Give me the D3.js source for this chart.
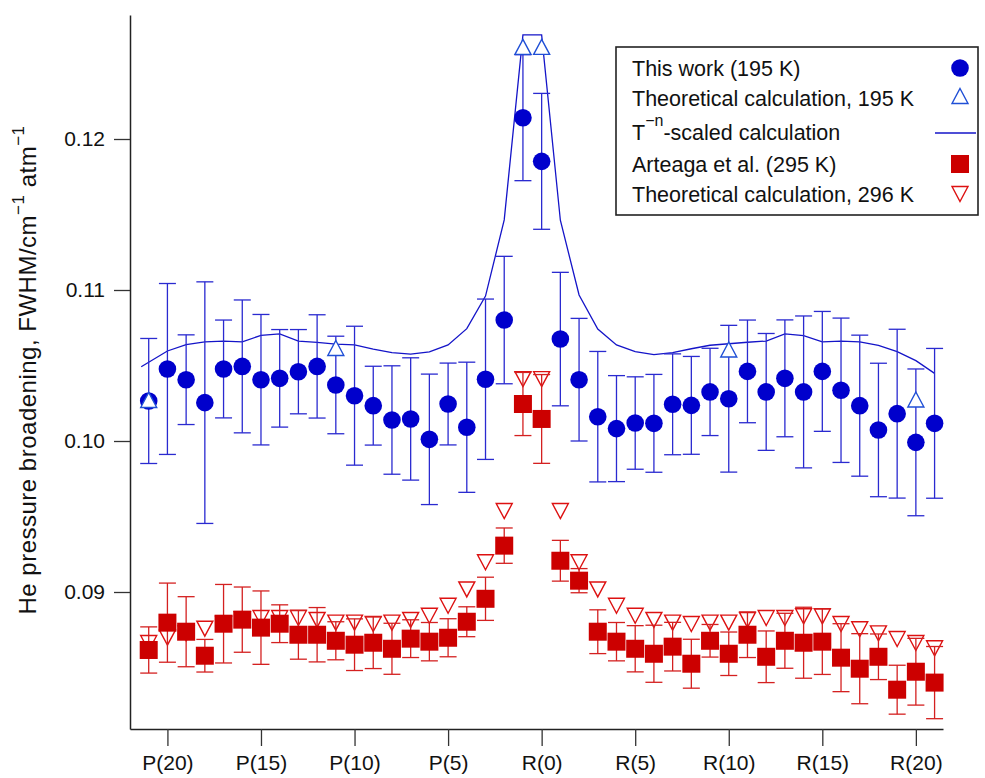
<!DOCTYPE html>
<html>
<head>
<meta charset="utf-8">
<script src="https://cdnjs.cloudflare.com/ajax/libs/d3/7.8.5/d3.min.js"></script>
<style>
  body { margin: 0; background: #fff; }
  svg { display: block; font-family: "Liberation Sans", Arial, sans-serif; }
</style>
</head>
<body>
<svg id="chart"></svg>
<script>
// line labels, P(21) ... P(1), R(0) ... R(21)
const lines = ["P(21)","P(20)","P(19)","P(18)","P(17)","P(16)","P(15)","P(14)","P(13)","P(12)","P(11)",
  "P(10)","P(9)","P(8)","P(7)","P(6)","P(5)","P(4)","P(3)","P(2)","P(1)",
  "R(0)","R(1)","R(2)","R(3)","R(4)","R(5)","R(6)","R(7)","R(8)","R(9)","R(10)",
  "R(11)","R(12)","R(13)","R(14)","R(15)","R(16)","R(17)","R(18)","R(19)","R(20)","R(21)"]

const tickLabels = ["P(20)","P(15)","P(10)","P(5)","R(0)","R(5)","R(10)","R(15)","R(20)"]
const yTicks = [0.09, 0.10, 0.11, 0.12]

// This work (195 K)
const work195 = [0.10265,0.10477,0.10406,0.10254,0.10477,0.10494,0.10406,0.10415,0.10459,0.10494,0.10371,
  0.10300,0.10234,0.10139,0.10146,0.10011,0.10245,0.10091,0.10409,0.10801,0.12141,
  0.11852,0.10675,0.10406,0.10161,0.10082,0.10119,0.10117,0.10243,0.10236,0.10325,0.10280,
  0.10461,0.10325,0.10415,0.10325,0.10461,0.10336,0.10234,0.10073,0.10181,0.09991,0.10117]
const work195Err = [0.00414,0.00566,0.00297,0.00800,0.00324,0.00440,0.00432,0.00323,0.00279,0.00342,0.00323,
  0.00460,0.00261,0.00359,0.00405,0.00432,0.00271,0.00431,0.00531,0.00422,0.00417,
  0.00450,0.00442,0.00406,0.00432,0.00351,0.00306,0.00324,0.00334,0.00324,0.00289,0.00486,
  0.00340,0.00387,0.00387,0.00503,0.00397,0.00478,0.00467,0.00442,0.00559,0.00486,0.00496]

// Theoretical calculation, 195 K
const theo195Lines = ["P(21)","P(11)","P(1)","R(0)","R(10)","R(20)"]
const theo195 = [0.10272,0.10616,0.12610,0.12610,0.10606,0.10275]

// T^-n scaled calculation
const scaledPos = [-21.4,-20,-19,-18,-17,-16,-15,-14,-13,-12,-11,-10,-9,-8,-7,-6,-5,-4,-3,-2,-1,
  0,1,2,3,4,5,6,7,8,9,10,11,12,13,14,15,16,17,18,19,20,21]
const scaled = [0.10492,0.10596,0.10638,0.10656,0.10662,0.10656,0.10700,0.10709,0.10662,0.10653,0.10642,
  0.10636,0.10609,0.10585,0.10575,0.10590,0.10636,0.10744,0.10960,0.11464,0.12690,
  0.12690,0.11462,0.10967,0.10742,0.10636,0.10592,0.10572,0.10585,0.10611,0.10634,0.10644,
  0.10654,0.10662,0.10709,0.10698,0.10656,0.10662,0.10656,0.10634,0.10592,0.10532,0.10448]

// Arteaga et al. (295 K)
const arteaga = [0.08616,0.08797,0.08737,0.08578,0.08790,0.08817,0.08764,0.08790,0.08717,0.08717,0.08677,
  0.08651,0.08664,0.08624,0.08691,0.08671,0.08697,0.08803,0.08955,0.09307,0.10245,
  0.10146,0.09207,0.09075,0.08737,0.08671,0.08624,0.08591,0.08638,0.08525,0.08677,0.08591,
  0.08717,0.08571,0.08677,0.08664,0.08671,0.08565,0.08492,0.08571,0.08353,0.08472,0.08400]
const arteagaErr = [0.00153,0.00262,0.00232,0.00108,0.00260,0.00216,0.00243,0.00125,0.00162,0.00180,0.00126,
  0.00171,0.00171,0.00169,0.00125,0.00127,0.00126,0.00099,0.00143,0.00117,0.00209,
  0.00294,0.00135,0.00080,0.00145,0.00127,0.00153,0.00189,0.00161,0.00162,0.00108,0.00144,
  0.00151,0.00171,0.00182,0.00235,0.00217,0.00225,0.00232,0.00151,0.00162,0.00221,0.00239]

// Theoretical calculation, 296 K
const theo296 = [0.08662,0.08698,0.08726,0.08757,0.08788,0.08820,0.08828,0.08828,0.08828,0.08815,0.08797,
  0.08797,0.08788,0.08797,0.08815,0.08843,0.08909,0.09017,0.09197,0.09536,0.10410,
  0.10410,0.09536,0.09197,0.09017,0.08909,0.08843,0.08815,0.08797,0.08788,0.08797,0.08797,
  0.08815,0.08828,0.08828,0.08839,0.08839,0.08788,0.08753,0.08726,0.08689,0.08662,0.08627]

const blue = '#0000cc', blueLine = '#1414c8', blueTri = '#1f4fd6', red = '#cc0000', redTri = '#dd1111'

// P(J) -> -J, R(J) -> J
function linePos(s){
  const j = parseInt(s.slice(2))
  return s[0] === 'P' ? -j : j
}

const width = 985, height = 778
const margin = {top: 15, right: 42, bottom: 49, left: 130}
const innerW = width - margin.left - margin.right
const innerH = height - margin.top - margin.bottom

const svg = d3.select('#chart').attr('width', width).attr('height', height)
const chart = svg.append('g').attr('transform', `translate(${margin.left},${margin.top})`)

const xscale = d3.scaleLinear().domain([-22, 21.45]).range([0, innerW])
const yscale = d3.scaleLinear().domain([0.080927, 0.128212]).range([innerH, 0])

// axes
const xaxis = d3.axisBottom(xscale)
  .tickValues(tickLabels.map(linePos))
  .tickFormat((d, i) => tickLabels[i])
  .tickSize(17).tickSizeOuter(0).tickPadding(9)
const yaxis = d3.axisLeft(yscale)
  .tickValues(yTicks)
  .tickFormat(d3.format('.2f'))
  .tickSize(16).tickSizeOuter(0).tickPadding(9)

const xg = chart.append('g').attr('transform', `translate(0,${innerH})`).call(xaxis)
const yg = chart.append('g').call(yaxis)
for (const g of [xg, yg]) {
  g.selectAll('text').attr('font-size', 21).attr('fill', '#111').attr('font-family', '"Liberation Sans", Arial, sans-serif')
  g.selectAll('line').attr('stroke', '#333').attr('stroke-width', 1.3)
  g.select('.domain').attr('stroke', '#222').attr('stroke-width', 1.5)
}

// y label
const ylab = svg.append('text')
  .attr('transform', `translate(36,${margin.top + innerH / 2 - 2}) rotate(-90)`)
  .attr('text-anchor', 'middle')
  .attr('font-size', 24)
  .attr('letter-spacing', 0.5)
  .attr('fill', '#111')
ylab.append('tspan').text('He pressure broadening, FWHM/cm')
ylab.append('tspan').attr('dy', -12).attr('font-size', 17).text('\u22121')
ylab.append('tspan').attr('dy', 12).text('  atm')
ylab.append('tspan').attr('dy', -12).attr('font-size', 17).text('\u22121')

// T^-n scaled line
chart.append('path')
  .datum(scaled)
  .attr('fill', 'none')
  .attr('stroke', blueLine)
  .attr('stroke-width', 1.3)
  .attr('d', d3.line().x((d, i) => xscale(scaledPos[i])).y(d => yscale(d)))

const cap = 8.5
function errorBars(vals, errs, color){
  const g = chart.append('g').attr('stroke', color).attr('stroke-width', 1.3).attr('fill', 'none')
  vals.forEach((v, i) => {
    const x = xscale(linePos(lines[i]))
    const y0 = yscale(v - errs[i]), y1 = yscale(v + errs[i])
    g.append('line').attr('x1', x).attr('x2', x).attr('y1', y0).attr('y2', y1)
    g.append('line').attr('x1', x - cap).attr('x2', x + cap).attr('y1', y0).attr('y2', y0)
    g.append('line').attr('x1', x - cap).attr('x2', x + cap).attr('y1', y1).attr('y2', y1)
  })
}

// triangle path with bbox centred on the point
function triPath(w, h, down){
  const s = down ? -1 : 1
  return `M0,${-s * h / 2}L${w / 2},${s * h / 2}L${-w / 2},${s * h / 2}Z`
}

// 296 K theory triangles (open, under the squares)
chart.append('g').selectAll('path').data(theo296).join('path')
  .attr('transform', (d, i) => `translate(${xscale(linePos(lines[i]))},${yscale(d)})`)
  .attr('d', triPath(16, 15, true))
  .attr('fill', 'none').attr('stroke', redTri).attr('stroke-width', 1.4)

errorBars(arteaga, arteagaErr, '#d42020')

chart.append('g').selectAll('rect').data(arteaga).join('rect')
  .attr('x', (d, i) => xscale(linePos(lines[i])) - 9)
  .attr('y', d => yscale(d) - 9)
  .attr('width', 18).attr('height', 18)
  .attr('fill', red)

errorBars(work195, work195Err, '#2a2ad0')

chart.append('g').selectAll('circle').data(work195).join('circle')
  .attr('cx', (d, i) => xscale(linePos(lines[i])))
  .attr('cy', d => yscale(d))
  .attr('r', 8.8)
  .attr('fill', blue)

chart.append('g').selectAll('path').data(theo195).join('path')
  .attr('transform', (d, i) => `translate(${xscale(linePos(theo195Lines[i]))},${yscale(d)})`)
  .attr('d', triPath(16, 15, false))
  .attr('fill', '#fff').attr('stroke', blueTri).attr('stroke-width', 1.4)

// legend
const legendItems = [
  {label: 'This work (195 K)', kind: 'circle'},
  {label: 'Theoretical calculation, 195 K', kind: 'triup'},
  {label: 'T', sup: '\u2212n', rest: '-scaled calculation', kind: 'line'},
  {label: 'Arteaga et al. (295 K)', kind: 'square'},
  {label: 'Theoretical calculation, 296 K', kind: 'tridown'}
]
const legend = svg.append('g').attr('transform', 'translate(616,47)')
legend.append('rect').attr('width', 362).attr('height', 168)
  .attr('fill', '#fff').attr('stroke', '#222').attr('stroke-width', 1.6)
const rowBase = [29, 59, 93, 125, 155]
const symY = [21, 49, 86, 117, 147]
legendItems.forEach((it, i) => {
  const t = legend.append('text').attr('x', 16).attr('y', rowBase[i]).attr('font-size', 21.5).attr('fill', '#111')
  t.append('tspan').text(it.label)
  if (it.sup) {
    t.append('tspan').attr('dy', -14).attr('font-size', 16).text(it.sup)
    t.append('tspan').attr('dy', 14).text(it.rest)
  }
  const sx = 344, sy = symY[i]
  if (it.kind === 'circle') legend.append('circle').attr('cx', sx).attr('cy', sy).attr('r', 8.8).attr('fill', blue)
  if (it.kind === 'triup') legend.append('path').attr('transform', `translate(${sx},${sy})`).attr('d', triPath(16, 15, false))
    .attr('fill', '#fff').attr('stroke', blueTri).attr('stroke-width', 1.4)
  if (it.kind === 'line') legend.append('line').attr('x1', 319).attr('x2', 360).attr('y1', sy).attr('y2', sy)
    .attr('stroke', blueLine).attr('stroke-width', 1.3)
  if (it.kind === 'square') legend.append('rect').attr('x', sx - 9).attr('y', sy - 9).attr('width', 18).attr('height', 18).attr('fill', red)
  if (it.kind === 'tridown') legend.append('path').attr('transform', `translate(${sx},${sy})`).attr('d', triPath(16, 15, true))
    .attr('fill', 'none').attr('stroke', redTri).attr('stroke-width', 1.4)
})
</script>
</body>
</html>
